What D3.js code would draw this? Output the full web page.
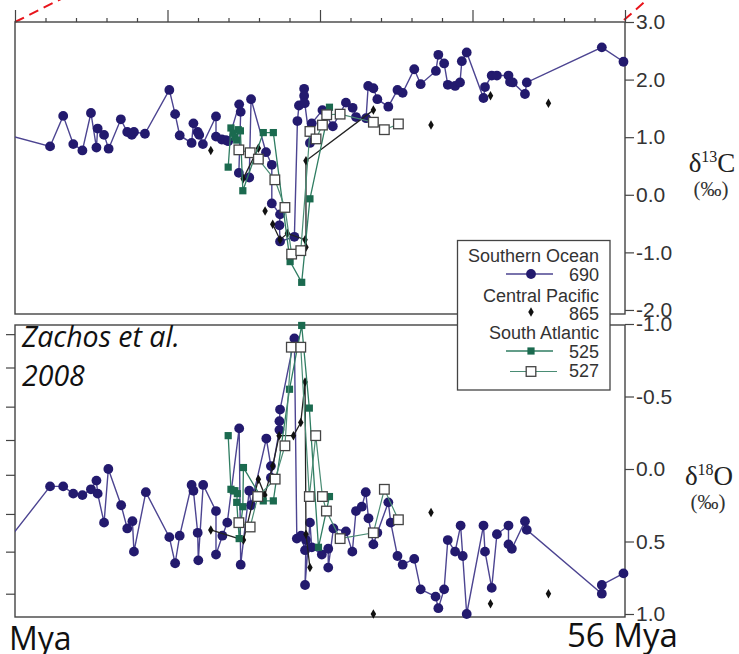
<!DOCTYPE html>
<html><head><meta charset="utf-8">
<script src="https://cdn.jsdelivr.net/npm/d3@7"></script>
<style>body{margin:0;background:#fff;} svg{display:block;}</style>
</head><body><svg id="c" width="739" height="654"></svg>
<script>
// ---------- DATA (x: relative age units, 0 = left edge ... 200 = 56 Mya) ----------
const xMajorTicks = [0, 50, 100, 150, 200];
const xMinorTicks = [10, 20, 30, 40, 60, 70, 80, 90, 110, 120, 130, 140, 160, 170, 180, 190];
const d13CTicks = [3.0, 2.0, 1.0, 0.0, -1.0, -2.0];
const d18OTicks = [-1.0, -0.5, 0.0, 0.5, 1.0];
const d18OLeftTicks = [-0.93, -0.70, -0.43, -0.20, 0.04, 0.31, 0.57, 0.86];

const site690_d13C = [[-3.3,1.05],[11.5,0.84],[15.8,1.37],[19.1,0.88],[22.1,0.77],[24.9,1.42],[26.7,0.82],[27.1,1.15],[29.2,1.04],[30.7,0.80],[34.7,1.31],[36.8,1.09],[38.3,1.04],[39.0,1.09],[42.6,1.06],[50.6,1.82],[52.5,1.40],[54.0,1.03],[57.9,0.90],[58.5,1.24],[59.9,1.09],[60.4,1.04],[61.6,0.88],[65.9,1.36],[65.9,1.01],[67.8,0.96],[69.1,0.95],[69.9,0.93],[73.5,1.57],[74.0,1.44],[73.4,0.38],[76.8,0.30],[77.4,1.66],[82.3,0.74],[84.2,0.52],[84.2,-0.15],[86.9,-0.34],[86.7,-0.53],[86.9,-0.81],[91.6,-0.73],[92.6,1.28],[93.1,1.55],[94.8,1.84],[94.8,1.72],[95.0,1.59],[96.7,0.90],[97.3,1.24],[100.8,1.47],[104.2,1.19],[108.5,1.60],[110.7,1.51],[111.8,1.35],[115.1,1.33],[115.8,1.89],[117.5,1.85],[118.8,1.66],[122.4,1.53],[125.4,1.82],[127.1,1.77],[130.9,2.18],[133.0,1.92],[138.0,2.15],[138.8,2.43],[140.7,2.28],[141.9,1.91],[144.3,1.89],[145.9,1.95],[146.5,2.32],[148.1,2.47],[153.6,1.68],[154.1,1.87],[156.3,2.07],[158.0,2.07],[161.8,2.07],[162.3,1.96],[163.2,1.95],[167.2,1.75],[167.8,1.95],[192.4,2.56],[199.5,2.31]];
const site865_d13C = [[64.2,0.77], null, [74.8,0.28],[79.8,0.81], null, [82.0,-0.28], null, [84.5,-0.51],[86.9,-0.78],[89.3,-0.67],[95.1,-0.78],[95.4,-0.91],[95.4,0.59],[117.5,1.47], null, [136.4,1.21], null, [155.9,1.72], null, [174.9,1.59]];
const site525_d13C = [[69.9,0.48],[70.8,1.16],[71.5,1.07],[72.1,1.00],[72.7,0.95],[73.2,1.13],[73.9,1.11],[74.7,0.07],[81.4,1.08],[84.7,1.08],[90.2,-1.16],[94.0,-1.52],[96.7,-0.07],[103.1,1.52]];
const site527_d13C = [[73.4,0.78],[77.1,0.73],[79.8,0.62],[85.2,0.26],[88.5,-0.22],[90.7,-1.03],[93.7,-0.97],[96.7,1.10],[98.7,0.97],[100.8,1.21],[102.2,1.39],[106.6,1.40],[117.5,1.26],[121.1,1.13],[125.7,1.23]];

const site690_d18O = [[-3.3,0.52],[11.5,0.12],[15.8,0.12],[19.1,0.17],[22.1,0.18],[24.9,0.14],[26.7,0.08],[27.1,0.17],[29.2,0.37],[30.6,0.00],[34.8,0.25],[36.8,0.41],[38.5,0.36],[39.0,0.57],[42.9,0.16],[50.6,0.47],[52.5,0.65],[54.0,0.46],[57.9,0.11],[58.5,0.15],[59.9,0.44],[60.1,0.63],[61.7,0.11],[65.9,0.29],[65.9,0.59],[68.0,0.46],[69.6,0.37],[73.5,-0.28],[74.0,0.66],[76.8,0.15],[77.4,0.25],[82.4,-0.21],[83.9,-0.02],[83.9,0.06],[86.7,-0.27],[86.7,-0.33],[86.9,-0.41],[91.6,-0.90],[92.4,0.48],[93.8,0.46],[95.1,0.56],[95.4,0.49],[95.1,0.80],[96.7,0.37],[97.3,0.54],[100.6,0.59],[102.7,0.55],[102.7,0.68],[104.4,0.41],[108.5,0.43],[110.6,0.57],[111.8,0.29],[113.7,0.26],[115.0,0.16],[115.9,0.34],[117.5,0.52],[118.8,0.44],[122.4,0.23],[123.2,0.37],[125.4,0.60],[127.1,0.66],[130.9,0.62],[133.0,0.83],[137.9,0.88],[138.8,0.96],[140.7,0.83],[141.9,0.49],[144.3,0.57],[146.1,0.39],[146.8,0.60],[148.1,1.00],[153.6,0.39],[154.1,0.57],[156.3,0.82],[158.0,0.45],[161.8,0.39],[161.8,0.52],[162.9,0.55],[167.2,0.36],[167.8,0.42],[192.4,0.86],[192.4,0.80],[199.5,0.72]];
const site865_d18O = [[64.2,0.42],[74.9,0.49],[79.8,0.07],[81.9,0.18],[84.5,-0.02],[86.6,-0.23],[91.3,-0.23],[93.7,-0.32],[95.1,-0.60],[95.4,0.45],[96.7,0.68], null, [117.5,1.00], null, [136.4,0.30], null, [155.9,0.93], null, [174.9,0.86]];
const site525_d18O = [[69.9,-0.23],[70.8,0.14],[71.6,0.15],[72.1,0.15],[72.9,0.17],[72.7,0.23],[73.5,0.48],[74.7,0.26],[74.9,-0.01],[81.4,0.22],[84.7,0.22],[90.0,-0.55],[94.0,-0.99],[96.5,-0.42],[99.5,0.54],[103.1,0.19]];
const site527_d18O = [[73.4,0.37],[77.1,0.40],[79.6,0.19],[85.3,0.07],[88.5,-0.16],[90.6,-0.84],[93.7,-0.84],[96.5,0.19],[98.6,-0.23],[100.8,0.19],[102.1,0.29],[106.6,0.48],[117.5,0.44],[121.1,0.14],[125.7,0.35]];

const legendGroups = ["Southern Ocean", "Central Pacific", "South Atlantic"];
const legendSites = ["690", "865", "525", "527"];

// ---------- LAYOUT ----------
const svg = d3.select('#c');
const X0 = 15, X1 = 625;
const TOP = {y0: 22, y1: 314}, BOT = {y0: 325, y1: 617};
const x = d3.scaleLinear().domain([0, 200]).range([X0, X1]);
const yC = d3.scaleLinear().domain([3.0, -2.07]).range([22, 314]);
const yO = d3.scaleLinear().domain([-1.0, 1.0]).range([324, 614]);

const C690 = '#231a6e', L690 = '#4c4491', C525 = '#1b6a4f', L525 = '#2f7d62', L527 = '#4a8c74', AX = '#444';
const sansF = '"Liberation Sans", Arial, Helvetica, sans-serif';
const serifF = '"Liberation Serif", "Times New Roman", serif';

svg.append('rect').attr('width', 739).attr('height', 654).attr('fill', '#fff');

svg.append('defs').append('clipPath').attr('id', 'clipx')
  .append('rect').attr('x', X0).attr('y', 0).attr('width', X1 - X0 + 20).attr('height', 654);

// red dashed zoom indicators
svg.append('line').attr('x1', X0).attr('y1', TOP.y0).attr('x2', X0 + 50).attr('y2', TOP.y0 - 25)
  .attr('stroke', '#e8141b').attr('stroke-width', 2).attr('stroke-dasharray', '10,6');
svg.append('line').attr('x1', X1 - 1).attr('y1', TOP.y0 - 2).attr('x2', X1 + 24).attr('y2', TOP.y0 - 24)
  .attr('stroke', '#e8141b').attr('stroke-width', 2).attr('stroke-dasharray', '10,6');

// frames
[TOP, BOT].forEach(p => {
  svg.append('rect').attr('x', X0).attr('y', p.y0).attr('width', X1 - X0).attr('height', p.y1 - p.y0)
    .attr('fill', 'none').attr('stroke', AX).attr('stroke-width', 1.4);
});

// top ticks
const gTop = svg.append('g').attr('transform', `translate(0,${TOP.y0})`);
gTop.call(d3.axisTop(x).tickValues(xMajorTicks).tickSize(12).tickFormat(''));
gTop.append('g').call(d3.axisTop(x).tickValues(xMinorTicks).tickSize(4).tickFormat(''));
gTop.selectAll('.domain').remove();
gTop.selectAll('line').attr('stroke', AX).attr('stroke-width', 1.2);

function styleAxis(g) {
  g.selectAll('.domain').remove();
  g.selectAll('line').attr('stroke', AX).attr('stroke-width', 1.2);
  g.selectAll('text').attr('font-family', sansF).attr('font-size', 21).attr('fill', '#333')
    .attr('text-anchor', 'start');
}
const fmt = d => d.toFixed(1);
const gRC = svg.append('g').attr('transform', `translate(${X1},0)`)
  .call(d3.axisRight(yC).tickValues(d13CTicks).tickSize(9).tickPadding(2).tickFormat(fmt));
styleAxis(gRC);
const gRO = svg.append('g').attr('transform', `translate(${X1},0)`)
  .call(d3.axisRight(yO).tickValues(d18OTicks).tickSize(9).tickPadding(2).tickFormat(fmt));
styleAxis(gRO);
const gLO = svg.append('g').attr('transform', `translate(${X0},0)`)
  .call(d3.axisLeft(yO).tickValues(d18OLeftTicks).tickSize(9).tickFormat(''));
styleAxis(gLO);

// axis titles
function isoTitle(cx, yb, sup, el) {
  const t = svg.append('text').attr('x', cx).attr('y', yb).attr('text-anchor', 'middle')
    .attr('font-family', serifF).attr('font-size', 27).attr('fill', '#222');
  t.append('tspan').text('δ');
  t.append('tspan').attr('font-size', 16).attr('dy', -10).text(sup);
  t.append('tspan').attr('dy', 10).text(el);
  svg.append('text').attr('x', cx - 1).attr('y', yb + 24).attr('text-anchor', 'middle')
    .attr('font-family', serifF).attr('font-size', 21).attr('fill', '#333').text('(‰)');
}
isoTitle(712, 172, '13', 'C');
isoTitle(709, 485, '18', 'O');

// series drawing
function drawSeries(data, y, opt) {
  const line = d3.line().defined(d => d).x(d => x(d[0])).y(d => y(d[1]));
  const g = svg.append('g');
  g.append('path').datum(data).attr('d', line).attr('fill', 'none')
    .attr('stroke', opt.line).attr('stroke-width', opt.lw).attr('clip-path', 'url(#clipx)');
  const pts = data.filter(d => d && d[0] >= 0);
  if (opt.type === 'circle') {
    g.selectAll('circle').data(pts).join('circle').attr('cx', d => x(d[0])).attr('cy', d => y(d[1]))
      .attr('r', 4.9).attr('fill', C690);
  } else if (opt.type === 'diamond') {
    g.selectAll('path.m').data(pts).join('path').attr('class', 'm')
      .attr('d', d3.symbol(d3.symbolDiamond, 26)).attr('transform', d => `translate(${x(d[0])},${y(d[1])})`)
      .attr('fill', '#111');
  } else if (opt.type === 'square') {
    g.selectAll('rect').data(pts).join('rect').attr('x', d => x(d[0]) - 3.6).attr('y', d => y(d[1]) - 3.6)
      .attr('width', 7.2).attr('height', 7.2).attr('fill', C525);
  } else {
    g.selectAll('rect').data(pts).join('rect').attr('x', d => x(d[0]) - 4.8).attr('y', d => y(d[1]) - 4.8)
      .attr('width', 9.6).attr('height', 9.6).attr('fill', '#fff').attr('stroke', '#444').attr('stroke-width', 1.3);
  }
}
drawSeries(site690_d13C, yC, {type: 'circle', line: L690, lw: 1.4});
drawSeries(site865_d13C, yC, {type: 'diamond', line: '#222', lw: 1.3});
drawSeries(site525_d13C, yC, {type: 'square', line: L525, lw: 1.3});
drawSeries(site527_d13C, yC, {type: 'open', line: L527, lw: 1.2});
drawSeries(site690_d18O, yO, {type: 'circle', line: L690, lw: 1.4});
drawSeries(site865_d18O, yO, {type: 'diamond', line: '#222', lw: 1.3});
drawSeries(site525_d18O, yO, {type: 'square', line: L525, lw: 1.3});
drawSeries(site527_d18O, yO, {type: 'open', line: L527, lw: 1.2});

// legend
const lg = svg.append('g');
lg.append('rect').attr('x', 457.5).attr('y', 240.5).attr('width', 152.5).attr('height', 149.5)
  .attr('fill', '#fff').attr('stroke', '#444').attr('stroke-width', 1.3);
const lt = (txt, yb) => lg.append('text').attr('x', 599).attr('y', yb).attr('text-anchor', 'end')
  .attr('font-family', sansF).attr('font-size', 18).attr('fill', '#333').text(txt);
lt(legendGroups[0], 262); lt(legendSites[0], 281);
lt(legendGroups[1], 302); lt(legendSites[1], 320);
lt(legendGroups[2], 339); lt(legendSites[2], 358);
lt(legendSites[3], 377);
lg.append('line').attr('x1', 506).attr('x2', 553).attr('y1', 274).attr('y2', 274).attr('stroke', L690).attr('stroke-width', 1.4);
lg.append('circle').attr('cx', 531).attr('cy', 274).attr('r', 4.9).attr('fill', C690);
lg.append('path').attr('d', d3.symbol(d3.symbolDiamond, 26)).attr('transform', 'translate(531,312)').attr('fill', '#111');
lg.append('line').attr('x1', 506).attr('x2', 553).attr('y1', 351).attr('y2', 351).attr('stroke', L525).attr('stroke-width', 1.3);
lg.append('rect').attr('x', 527.4).attr('y', 347.4).attr('width', 7.2).attr('height', 7.2).attr('fill', C525);
lg.append('line').attr('x1', 510).attr('x2', 557).attr('y1', 371.5).attr('y2', 371.5).attr('stroke', L527).attr('stroke-width', 1.2);
lg.append('rect').attr('x', 526.2).attr('y', 366.7).attr('width', 9.6).attr('height', 9.6).attr('fill', '#fff').attr('stroke', '#444').attr('stroke-width', 1.3);

// annotations
const annF = '"Open Sans", "Noto Sans", sans-serif';
svg.append('text').attr('x', 22).attr('y', 347).attr('font-family', annF).attr('font-style', 'italic')
  .attr('font-size', 28.5).attr('fill', '#111').text('Zachos et al.');
svg.append('text').attr('x', 22).attr('y', 386).attr('font-family', annF).attr('font-style', 'italic')
  .attr('font-size', 28.5).attr('fill', '#111').text('2008');
svg.append('text').attr('x', 9).attr('y', 650).attr('font-family', annF).attr('font-size', 32).attr('fill', '#111').text('Mya');
svg.append('text').attr('x', 567).attr('y', 647).attr('font-family', annF).attr('font-size', 33).attr('fill', '#111').text('56 Mya');
</script></body></html>
